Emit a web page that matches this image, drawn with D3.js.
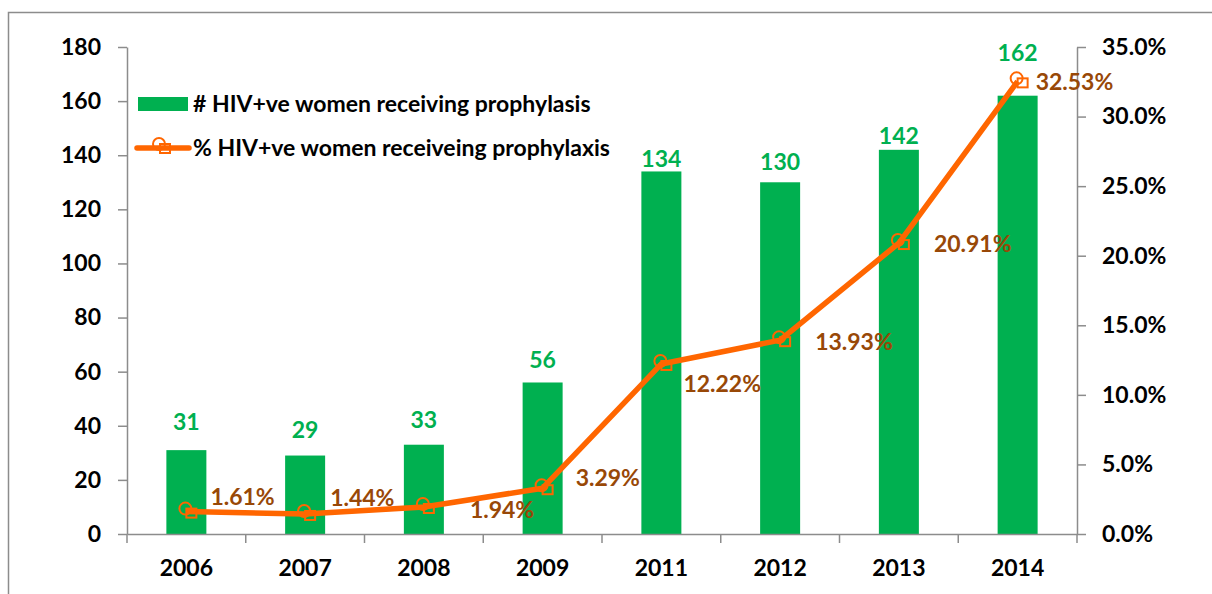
<!DOCTYPE html>
<html>
<head>
<meta charset="utf-8">
<script src="https://cdn.jsdelivr.net/npm/d3@7"></script>
<style>
  body { margin: 0; background: #fff; }
  #chart { width: 1212px; height: 594px; }
  text { font-family: Lato, "Liberation Sans", sans-serif; font-weight: bold; }
</style>
</head>
<body>
<div id="chart"></div>
<script>
//Datos
const years = ['2006', '2007', '2008', '2009', '2011', '2012', '2013', '2014'];
const womenCount = [31, 29, 33, 56, 134, 130, 142, 162];
const womenPct = [1.61, 1.44, 1.94, 3.29, 12.22, 13.93, 20.91, 32.53];
const leftTicks = [0, 20, 40, 60, 80, 100, 120, 140, 160, 180];
const rightTicks = [0, 5, 10, 15, 20, 25, 30, 35];
const seriesNames = ['# HIV+ve women receiving prophylasis', '% HIV+ve women receiveing prophylaxis'];

//Colores
const GREEN = '#00B050', ORANGE = '#FF6600', BROWN = '#984807', AXIS = '#8c8c8c';
const FONT_SIZE = '23px';

//Desplazamientos de etiquetas (colocadas a mano en el original)
const countLabelDy = [-28, -26, -25, -23, -13, -20, -14, -43];
const pctLabelOffset = [[24, -15], [25, -16], [46, 3], [33, -10], [22, 20], [35, 2], [35, 1], [18, 1]];

let margin = {top: 47, right: 135, bottom: 60, left: 127},
    width = 1212 - margin.left - margin.right,
    height = 594 - margin.top - margin.bottom;

let root = d3.select('#chart').append('svg')
    .attr('width', 1212)
    .attr('height', 594);

//Marco
root.append('rect')
    .attr('x', 8.5).attr('y', 12.5)
    .attr('width', 1230).attr('height', 600)
    .attr('fill', 'none').attr('stroke', AXIS).attr('stroke-width', 1.5);

let svg = root.append('g')
    .attr('transform', 'translate(' + margin.left + ',' + margin.top + ')');

//Escalas
let x = d3.scaleBand().domain(years).range([0, width]);
let y = d3.scaleLinear().domain([0, 180]).range([height, 0]);
let y2 = d3.scaleLinear().domain([0, 35]).range([height, 0]);

//Barras
svg.append('g').selectAll('rect')
    .data(years)
    .enter()
    .append('rect')
    .attr('x', function(d) { return x(d) + x.bandwidth() / 2 - 20; })
    .attr('y', function(d, i) { return y(womenCount[i]); })
    .attr('width', 40)
    .attr('height', function(d, i) { return height - y(womenCount[i]); })
    .attr('fill', GREEN);

//Ejes
function styleAxis(g) {
    g.select('.domain').attr('stroke', AXIS).attr('stroke-width', 1.5);
    g.selectAll('.tick line').attr('stroke', AXIS).attr('stroke-width', 1.5);
    g.selectAll('.tick text').attr('fill', '#000').style('font-size', FONT_SIZE);
}

svg.append('g')
    .call(d3.axisLeft(y).tickValues(leftTicks).tickSize(9).tickSizeOuter(0).tickPadding(17))
    .call(styleAxis);

svg.append('g')
    .attr('transform', 'translate(' + width + ',0)')
    .call(d3.axisRight(y2).tickValues(rightTicks).tickSize(9).tickSizeOuter(0).tickPadding(16)
        .tickFormat(function(d) { return d.toFixed(1) + '%'; }))
    .call(styleAxis);

let xAxis = svg.append('g')
    .attr('transform', 'translate(0,' + height + ')')
    .call(d3.axisBottom(x).tickSize(0).tickPadding(26))
    .call(styleAxis);

xAxis.selectAll('.tick text').attr('dy', '0.71em');

//Marcas entre categorias
xAxis.selectAll('.sep')
    .data(years.concat(['end']))
    .enter()
    .append('line')
    .attr('x1', function(d, i) { return i * x.step(); })
    .attr('x2', function(d, i) { return i * x.step(); })
    .attr('y1', 0).attr('y2', 9)
    .attr('stroke', AXIS).attr('stroke-width', 1.5);

//Linea
let line = d3.line()
    .x(function(d, i) { return x(years[i]) + x.bandwidth() / 2; })
    .y(function(d) { return y2(d); });

svg.append('path')
    .datum(womenPct)
    .attr('d', line)
    .attr('fill', 'none')
    .attr('stroke', ORANGE)
    .attr('stroke-width', 5.5)
    .attr('stroke-linejoin', 'round');

function drawMarker(g, cx, cy) {
    g.append('circle')
        .attr('cx', cx - 1).attr('cy', cy - 3).attr('r', 6)
        .attr('fill', 'none').attr('stroke', ORANGE).attr('stroke-width', 2);
    g.append('rect')
        .attr('x', cx).attr('y', cy - 3).attr('width', 10).attr('height', 9)
        .attr('fill', 'none').attr('stroke', ORANGE).attr('stroke-width', 2);
}

let markers = svg.append('g');
womenPct.forEach(function(d, i) {
    drawMarker(markers, x(years[i]) + x.bandwidth() / 2, y2(d));
});

//Etiquetas de barras
svg.append('g').selectAll('text')
    .data(womenCount)
    .enter()
    .append('text')
    .attr('x', function(d, i) { return x(years[i]) + x.bandwidth() / 2; })
    .attr('y', function(d, i) { return y(d) + countLabelDy[i]; })
    .attr('dy', '0.35em')
    .attr('text-anchor', 'middle')
    .attr('fill', GREEN)
    .style('font-size', FONT_SIZE)
    .text(function(d) { return d; });

//Etiquetas de porcentaje
svg.append('g').selectAll('text')
    .data(womenPct)
    .enter()
    .append('text')
    .attr('x', function(d, i) { return x(years[i]) + x.bandwidth() / 2 + pctLabelOffset[i][0]; })
    .attr('y', function(d, i) { return y2(d) + pctLabelOffset[i][1]; })
    .attr('dy', '0.35em')
    .attr('fill', BROWN)
    .style('font-size', FONT_SIZE)
    .text(function(d) { return d.toFixed(2) + '%'; });

//Leyenda
let legend = root.append('g');
legend.append('rect')
    .attr('x', 138).attr('y', 97).attr('width', 50).attr('height', 14)
    .attr('fill', GREEN);
legend.append('text')
    .attr('x', 193).attr('y', 104).attr('dy', '0.35em')
    .style('font-size', FONT_SIZE)
    .text(seriesNames[0]);
legend.append('line')
    .attr('x1', 137).attr('x2', 189).attr('y1', 148).attr('y2', 148)
    .attr('stroke', ORANGE).attr('stroke-width', 5.5).attr('stroke-linecap', 'round');
drawMarker(legend, 160, 147);
legend.append('text')
    .attr('x', 193).attr('y', 148).attr('dy', '0.35em')
    .style('font-size', FONT_SIZE)
    .text(seriesNames[1]);
</script>
</body>
</html>
